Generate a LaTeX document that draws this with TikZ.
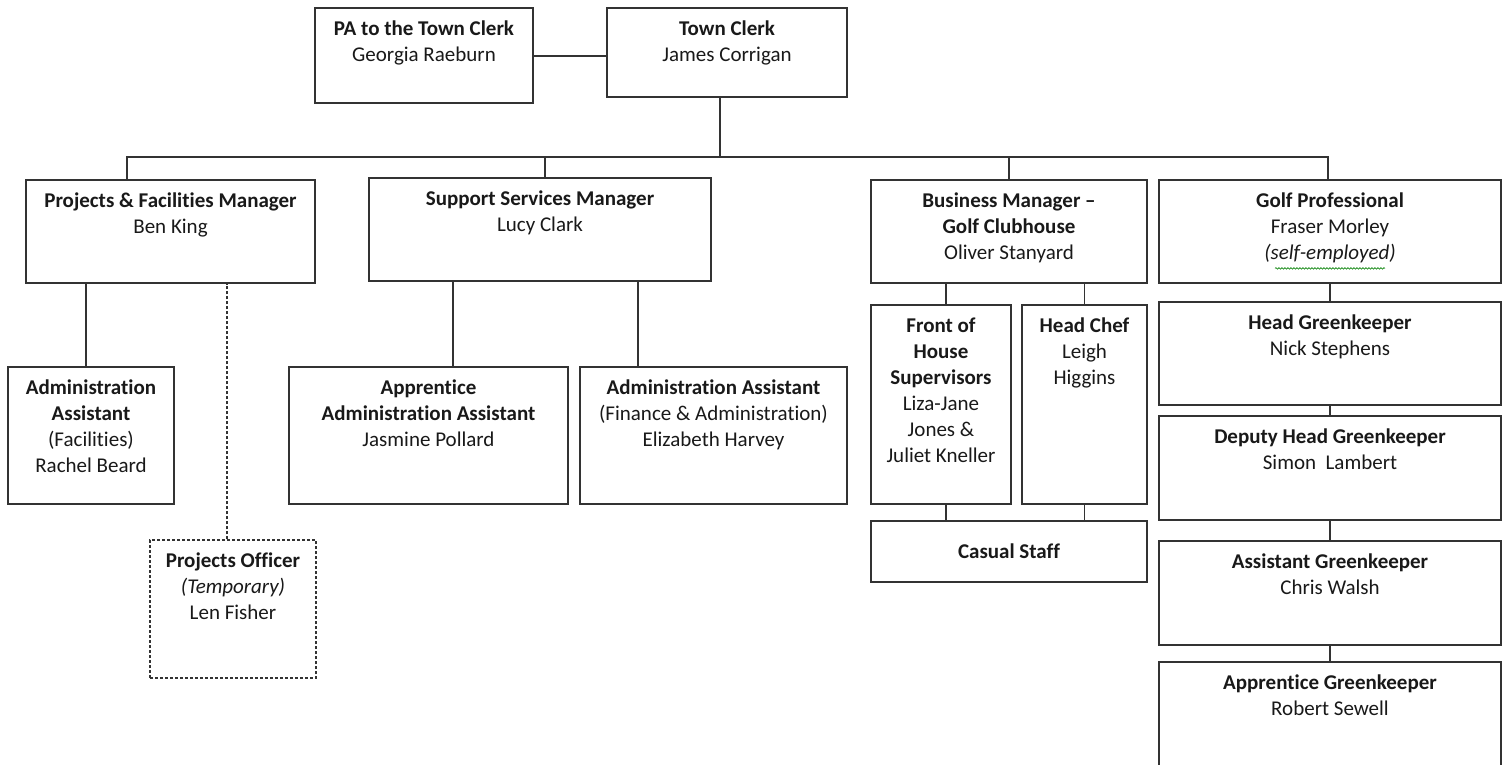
\documentclass[tikz,border=0pt]{standalone}
\usepackage{fontspec}
\setmainfont[Ligatures={NoCommon}]{Carlito}
\usetikzlibrary{fit,calc,decorations.pathmorphing}
\tikzset{
  x=1pt,y=-1pt,
  line/.style={draw=black!80,line width=1.2pt},
  orgbox/.style={line,rectangle,inner sep=0pt},
  dashbox/.style={orgbox,dashed,dash pattern=on 3pt off 2pt},
  txt/.style={align=center,inner sep=0pt,anchor=north,font=\fontsize{21}{26}\selectfont,text=black!90}
}
\newcommand\orgbox[7][orgbox]{%
  \coordinate (#2-nw) at (#3,#4);
  \coordinate (#2-se) at (#5,#6);
  \node[#1,fit=(#2-nw)(#2-se)] (#2) {};
  \node[txt] (#2-t) at ([yshift=-13.5]#2.north) {#7};
}
\begin{document}
\begin{tikzpicture}
\useasboundingbox (0,0) rectangle (1510,765);
\clip (0,0) rectangle (1510,765);
\fill[white] (0,0) rectangle (1510,765);
\orgbox{pa}{315}{8}{533}{103}{\textbf{PA to the Town Clerk}\\Georgia Raeburn}
\orgbox{tc}{607}{8}{847}{97}{\textbf{Town Clerk}\\James Corrigan}
\orgbox{pfm}{26}{180}{315}{283}{\textbf{Projects \& Facilities Manager}\\Ben King}
\orgbox{ssm}{369}{178}{711}{281}{\textbf{Support Services Manager}\\Lucy Clark}
\orgbox{bm}{871}{180}{1147}{283}{\textbf{Business Manager –}\\\textbf{Golf Clubhouse}\\Oliver Stanyard}
\orgbox{gp}{1159}{180}{1501}{283}{\textbf{Golf Professional}\\Fraser Morley\\\textit{(self-employed)}}
\orgbox{af}{8}{367}{174}{504}{\textbf{Administration}\\\textbf{Assistant}\\(Facilities)\\Rachel Beard}
\orgbox[dashbox]{po}{150}{540}{316}{678}{\textbf{Projects Officer}\\\textit{(Temporary)}\\Len Fisher}
\orgbox{aaa}{289}{367}{568}{504}{\textbf{Apprentice}\\\textbf{Administration Assistant}\\Jasmine Pollard}
\orgbox{afa}{580}{367}{847}{504}{\textbf{Administration Assistant}\\(Finance \& Administration)\\Elizabeth Harvey}
\orgbox{foh}{871}{305}{1011}{504}{\textbf{Front of}\\\textbf{House}\\\textbf{Supervisors}\\Liza-Jane\\Jones \&\\Juliet Kneller}
\orgbox{hc}{1022}{305}{1147}{504}{\textbf{Head Chef}\\Leigh\\Higgins}
\coordinate (cs-nw) at (871,521);
\coordinate (cs-se) at (1147,582);
\node[orgbox,fit=(cs-nw)(cs-se)] (cs) {};
\node[txt,anchor=center] (cs-t) at (cs.center) {\textbf{Casual Staff}};
\orgbox{hg}{1159}{302}{1501}{405}{\textbf{Head Greenkeeper}\\Nick Stephens}
\orgbox{dhg}{1159}{416}{1501}{520}{\textbf{Deputy Head Greenkeeper}\\Simon\ \ Lambert}
\orgbox{ag}{1159}{541}{1501}{645}{\textbf{Assistant Greenkeeper}\\Chris Walsh}
\orgbox{apg}{1159}{662}{1501}{800}{\textbf{Apprentice Greenkeeper}\\Robert Sewell}
% spell-check wave under self-employed
\draw[green!50!black,line width=0.6pt,decorate,decoration={snake,amplitude=0.8pt,segment length=3pt}]
  ([xshift=-55,yshift=-5]gp-t.south) -- ([xshift=55,yshift=-5]gp-t.south);
% connectors
\coordinate (busL) at (127,157);
\coordinate (busR) at (1328,157);
\coordinate (busM) at (720,157);
\draw[line] (pa.east |- 0,56) -- (tc.west |- 0,56);
\draw[line] (tc.south -| busM) -- (busM);
\draw[line] (pfm.north -| busL) -- (busL) -- (busR) -- (gp.north -| busR);
\draw[line] ([xshift=5]ssm.north) -- ([xshift=5]ssm.north |- busL);
\draw[line] (bm.north) -- (bm.north |- busL);
\draw[line] ([xshift=-5]af.north) -- ([xshift=-5]af.north |- pfm.south);
\draw[line,dashed,dash pattern=on 3pt off 2pt] ([xshift=-6]po.north) -- ([xshift=-6]po.north |- pfm.south);
\draw[line] ([xshift=24.5]aaa.north) -- ([xshift=24.5]aaa.north |- ssm.south);
\draw[line] ([xshift=-75.5]afa.north) -- ([xshift=-75.5]afa.north |- ssm.south);
\draw[line] ([xshift=5]foh.north) -- ([xshift=5]foh.north |- bm.south);
\draw[line] (hc.north) -- (hc.north |- bm.south);
\draw[line] ([xshift=5]foh.south) -- ([xshift=5]foh.south |- cs.north);
\draw[line] (hc.south) -- (hc.south |- cs.north);
\draw[line] (gp.south) -- (hg.north);
\draw[line] (hg.south) -- (dhg.north);
\draw[line] (dhg.south) -- (ag.north);
\draw[line] (ag.south) -- (apg.north);
\end{tikzpicture}
\end{document}
